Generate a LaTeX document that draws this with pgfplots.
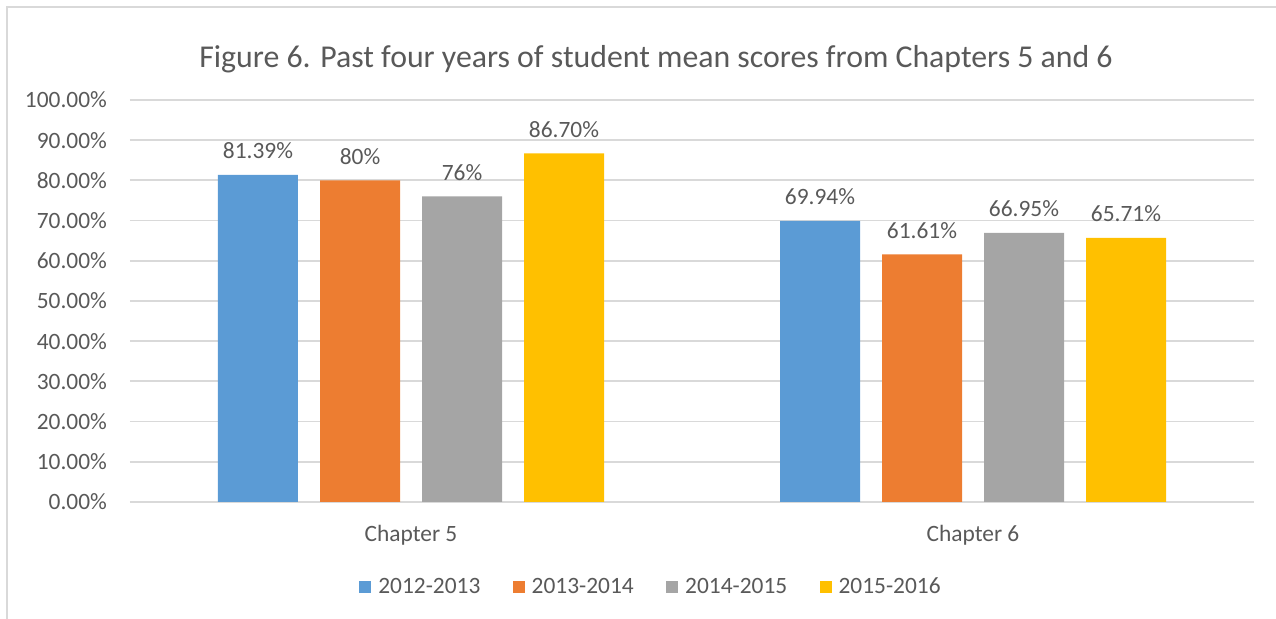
\documentclass[border=0pt]{standalone}
\usepackage{fontspec}
\setmainfont{Carlito}
\usepackage{pgfplots}
\pgfplotsset{compat=1.18}
\definecolor{sblue}{HTML}{5B9BD5}
\definecolor{sorange}{HTML}{ED7D31}
\definecolor{sgray}{HTML}{A5A5A5}
\definecolor{syellow}{HTML}{FFC000}
\definecolor{txt}{HTML}{595959}
\definecolor{gridc}{HTML}{D9D9D9}
\begin{document}
\begin{tikzpicture}
% page frame, 1px = 0.5pt, axis corner at (130,502)px
\path[use as bounding box] (-65pt,-58.5pt) rectangle (573pt,251pt);
\draw[gridc,line width=0.9pt] (-61.5pt,-60pt) -- (-61.5pt,247.5pt) -- (575pt,247.5pt);
\node[txt,font=\fontsize{15.9}{19}\selectfont] at (263pt,221.5pt) {Figure 6. Past four years of student mean scores from Chapters 5 and 6};
\begin{axis}[
  at={(0,0)}, anchor=south west,
  scale only axis, width=562pt, height=201pt,
  ybar=11pt, bar width=40pt,
  xmin=-0.5, xmax=1.5, ymin=0, ymax=100,
  xtick=data, xticklabels={Chapter 5,Chapter 6},
  ytick={0,10,...,100},
  yticklabel={\pgfmathprintnumber[fixed,fixed zerofill,precision=2]{\tick}\%},
  /pgf/number format/assume math mode=true,
  axis x line*=bottom, axis y line*=left,
  x axis line style={draw=gridc,line width=0.9pt,-},
  y axis line style={draw=none},
  major tick length=0pt,
  ymajorgrids, major grid style={draw=gridc,line width=0.9pt},
  tick label style={font=\fontsize{11.7}{14}\selectfont,text=txt},
  yticklabel style={xshift=-8pt},
  xticklabel style={yshift=-8pt},
  point meta=explicit symbolic,
  nodes near coords,
  every node near coord/.append style={font=\fontsize{11.7}{14}\selectfont,text=txt,yshift=4.5pt},
  legend columns=4,
  legend style={draw=none,at={(0.4644,-0.2114)},anchor=center,
    font=\fontsize{11.7}{14}\selectfont,text=txt,
    /tikz/every odd column/.append style={column sep=1.5pt},
    /tikz/every even column/.append style={column sep=14.2pt}},
  legend image code/.code={\fill[#1] (0pt,-3pt) rectangle (6pt,3pt);},
]
\addplot[fill=sblue,draw=none] coordinates {(0,81.39) [81.39\%] (1,69.94) [69.94\%]};
\addplot[fill=sorange,draw=none] coordinates {(0,80) [80\%] (1,61.61) [61.61\%]};
\addplot[fill=sgray,draw=none] coordinates {(0,76) [76\%] (1,66.95) [66.95\%]};
\addplot[fill=syellow,draw=none] coordinates {(0,86.70) [86.70\%] (1,65.71) [65.71\%]};
\legend{2012-2013,2013-2014,2014-2015,2015-2016}
\end{axis}
\end{tikzpicture}
\end{document}
